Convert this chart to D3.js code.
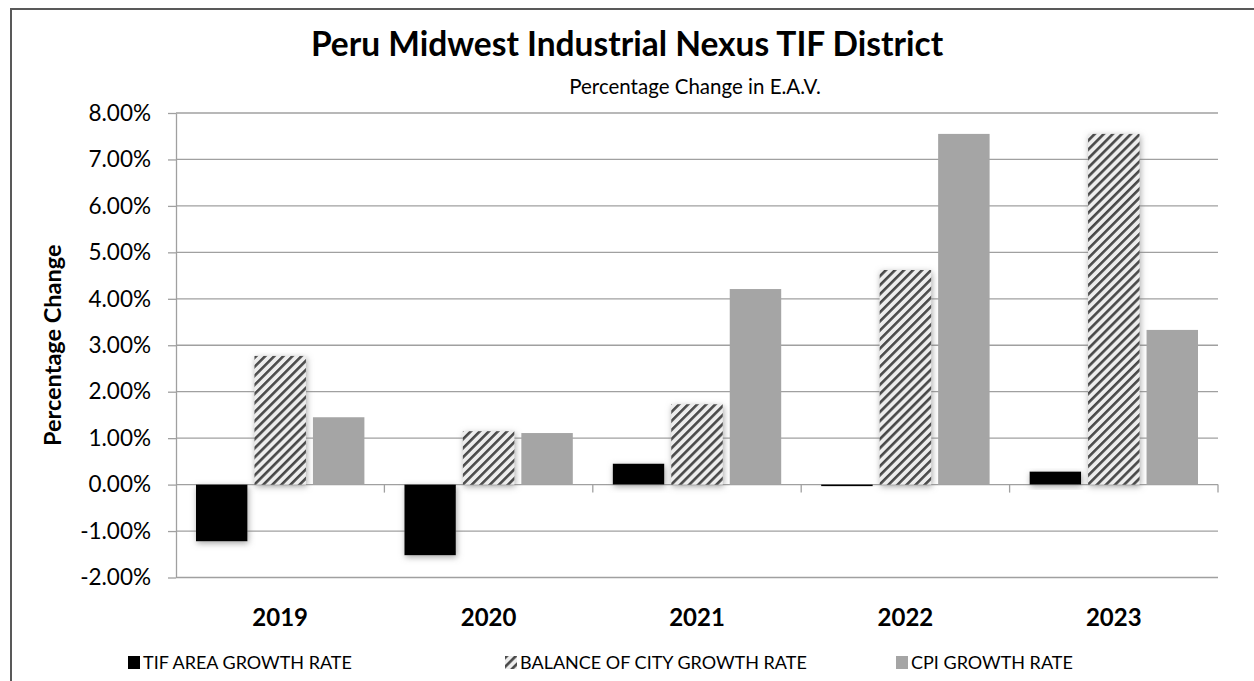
<!DOCTYPE html>
<html lang="en">
<head>
    <meta charset="UTF-8">
    <title>Peru Midwest Industrial Nexus TIF District</title>
    <style>
        body { margin: 0; background: #fff; }
        text { font-family: Lato, "Open Sans", sans-serif; fill: #000; }
    </style>
</head>
<body>
    <div id="chart"></div>

    <script src="https://d3js.org/d3.v7.min.js"></script>
    <script type="text/javascript">
// values (percent)
const years = ["2019", "2020", "2021", "2022", "2023"];
const tifRate = [-1.22, -1.52, 0.45, -0.03, 0.28];
const balanceRate = [2.77, 1.15, 1.73, 4.62, 7.55];
const cpiRate = [1.45, 1.11, 4.21, 7.55, 3.33];
const seriesNames = ["TIF AREA GROWTH RATE", "BALANCE OF CITY GROWTH RATE", "CPI GROWTH RATE"];
const yTicks = [-2, -1, 0, 1, 2, 3, 4, 5, 6, 7, 8];

const width = 1254, height = 681;
const plot = { left: 176, right: 1218, top: 113, bottom: 577.5 };

const svg = d3.select("#chart")
    .append("svg")
    .attr("width", width)
    .attr("height", height);

const defs = svg.append("defs");

// diagonal hatch for the balance of city series
const hatch = defs.append("pattern")
    .attr("id", "hatch")
    .attr("patternUnits", "userSpaceOnUse")
    .attr("width", 6.4)
    .attr("height", 6.4)
    .attr("patternTransform", "rotate(45)");
hatch.append("rect").attr("width", 6.4).attr("height", 6.4).attr("fill", "#ededed");
hatch.append("rect").attr("width", 2.6).attr("height", 6.4).attr("fill", "#4a4a4a");

// soft grey glow round the dark bars
const glow = defs.append("filter")
    .attr("id", "glow")
    .attr("x", "-40%").attr("y", "-40%")
    .attr("width", "180%").attr("height", "180%");
glow.append("feGaussianBlur").attr("in", "SourceAlpha").attr("stdDeviation", 3).attr("result", "blur");
glow.append("feOffset").attr("in", "blur").attr("dx", 1).attr("dy", 2).attr("result", "off");
glow.append("feFlood").attr("flood-color", "#7f7f7f").attr("flood-opacity", 0.7);
glow.append("feComposite").attr("in2", "off").attr("operator", "in").attr("result", "shadow");
const merge = glow.append("feMerge");
merge.append("feMergeNode").attr("in", "shadow");
merge.append("feMergeNode").attr("in", "SourceGraphic");

svg.append("rect").attr("width", width).attr("height", height).attr("fill", "#fff");

// chart frame (only top and left edge are inside the picture)
svg.append("path")
    .attr("d", `M11,${height} V9 H${width}`)
    .attr("fill", "none")
    .attr("stroke", "#595959")
    .attr("stroke-width", 2);

// titles
svg.append("text")
    .attr("x", 627)
    .attr("y", 56)
    .attr("text-anchor", "middle")
    .attr("font-size", 33.5)
    .attr("font-weight", "bold")
    .text("Peru Midwest Industrial Nexus TIF District");

svg.append("text")
    .attr("x", 695)
    .attr("y", 94)
    .attr("text-anchor", "middle")
    .attr("font-size", 20.5)
    .text("Percentage Change in E.A.V.");

const x0 = d3.scaleBand().domain(years).range([plot.left, plot.right]).padding(0);
const x1 = d3.scaleBand().domain(seriesNames)
    .range([20, x0.bandwidth() - 20])
    .paddingInner(0.12);
const y = d3.scaleLinear().domain([-2, 8]).range([plot.bottom, plot.top]);

// gridlines
svg.append("g")
    .selectAll("line")
    .data(yTicks)
    .join("line")
    .attr("x1", plot.left)
    .attr("x2", plot.right)
    .attr("y1", d => y(d))
    .attr("y2", d => y(d))
    .attr("stroke", "#a0a0a0")
    .attr("stroke-width", 1.3);

// y axis
const yAxis = svg.append("g")
    .attr("transform", `translate(${plot.left},0)`)
    .call(d3.axisLeft(y).tickValues(yTicks).tickSize(8).tickSizeOuter(0)
        .tickFormat(d => d.toFixed(2) + "%"));
yAxis.select(".domain").attr("stroke", "#a0a0a0").attr("stroke-width", 1.3);
yAxis.selectAll(".tick line").attr("stroke", "#a0a0a0").attr("stroke-width", 1.3);
yAxis.selectAll(".tick text")
    .attr("x", -25)
    .attr("font-size", 22.5)
    .attr("font-family", "Lato, sans-serif")
    .attr("fill", "#000");

svg.append("text")
    .attr("transform", `translate(61,${(plot.top + plot.bottom) / 2}) rotate(-90)`)
    .attr("text-anchor", "middle")
    .attr("font-size", 23.5)
    .attr("font-weight", "bold")
    .text("Percentage Change");

// category boundary ticks below the zero line
svg.append("g")
    .selectAll("line")
    .data(years.slice(1).map(d => x0(d)).concat([plot.right]))
    .join("line")
    .attr("x1", d => d)
    .attr("x2", d => d)
    .attr("y1", y(0))
    .attr("y2", y(0) + 8)
    .attr("stroke", "#a0a0a0")
    .attr("stroke-width", 1.3);

// bars
const fills = ["#000", "url(#hatch)", "#a5a5a5"];
const rows = years.map((yr, i) => ({
    year: yr,
    values: [tifRate[i], balanceRate[i], cpiRate[i]]
}));

const groups = svg.append("g")
    .selectAll("g")
    .data(rows)
    .join("g")
    .attr("transform", d => `translate(${x0(d.year)},0)`);

groups.selectAll("rect")
    .data(d => d.values.map((v, k) => ({ key: seriesNames[k], k: k, value: v })))
    .join("rect")
    .attr("x", d => x1(d.key))
    .attr("width", x1.bandwidth())
    .attr("y", d => y(Math.max(0, d.value)))
    .attr("height", d => Math.max(1.5, Math.abs(y(d.value) - y(0))))
    .attr("fill", d => fills[d.k])
    .attr("filter", d => d.k < 2 ? "url(#glow)" : null);

// category labels
svg.append("g")
    .selectAll("text")
    .data(years)
    .join("text")
    .attr("x", d => x0(d) + x0.bandwidth() / 2)
    .attr("y", 626)
    .attr("text-anchor", "middle")
    .attr("font-size", 24)
    .attr("font-weight", "bold")
    .text(d => d);

// legend
const legendX = [128, 505, 896];
const legend = svg.append("g")
    .selectAll("g")
    .data(seriesNames)
    .join("g")
    .attr("transform", (d, i) => `translate(${legendX[i]},656)`);

legend.append("rect")
    .attr("width", 12)
    .attr("height", 13)
    .attr("fill", (d, i) => fills[i]);

legend.append("text")
    .attr("x", 15)
    .attr("y", 13)
    .attr("font-size", 18)
    .text(d => d);
    </script>
</body>
</html>
